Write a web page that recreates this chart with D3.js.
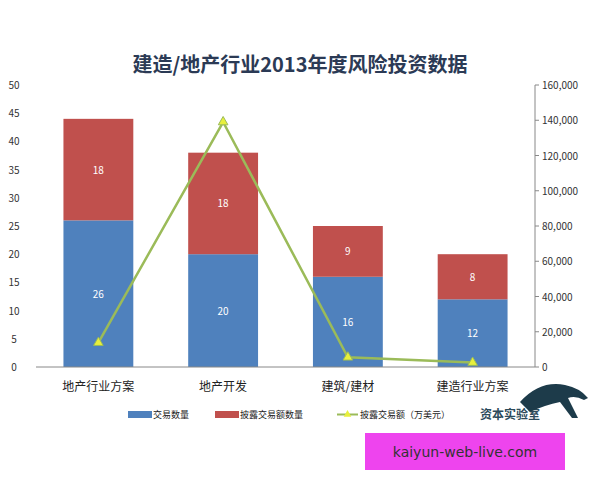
<!DOCTYPE html>
<html><head><meta charset="utf-8">
<script src="https://cdn.jsdelivr.net/npm/d3@7/dist/d3.min.js"></script>
<style>body{margin:0;background:#fff}</style></head>
<body><svg id="c" width="600" height="480"></svg>
<script>
const categories=["地产行业方案","地产开发","建筑/建材","建造行业方案"];
const countVals=[26,20,16,12];
const disclosedCountVals=[18,18,9,8];
const amountVals=[13800,139000,5500,2500];
const leftTicks=[0,5,10,15,20,25,30,35,40,45,50];
const rightTicks=[0,20000,40000,60000,80000,100000,120000,140000,160000];
const svg=d3.select("#c");
const font="'Noto Sans CJK SC','DejaVu Sans',sans-serif";
const L=36,R=535,T=85,B=367;
const x=d3.scaleBand().domain(categories).range([L,R]).paddingInner(0.44).paddingOuter(0.22);
const y=d3.scaleLinear().domain([0,50]).range([B,T]);
const y2=d3.scaleLinear().domain([0,160000]).range([B,T]);
svg.append("text").attr("x",300).attr("y",72).attr("text-anchor","middle").attr("font-family",font)
 .attr("font-size",20).attr("font-weight","bold").attr("fill","#2b3a55").text("建造/地产行业2013年度风险投资数据");
// left axis labels
svg.selectAll(".lt").data(leftTicks).enter().append("text").attr("x",14).attr("y",d=>y(d)+4)
 .attr("text-anchor","middle").attr("font-family",font).attr("font-size",10).attr("fill","#333").text(d=>d);
// right axis
svg.append("line").attr("x1",R).attr("x2",R).attr("y1",T).attr("y2",B).attr("stroke","#888");
svg.selectAll(".rt").data(rightTicks).enter().append("line").attr("x1",R).attr("x2",R+4).attr("y1",d=>y2(d)).attr("y2",d=>y2(d)).attr("stroke","#888");
svg.selectAll(".rl").data(rightTicks).enter().append("text").attr("x",542).attr("y",d=>y2(d)+4)
 .attr("font-family",font).attr("font-size",10).attr("fill","#333").text(d=>d3.format(",")(d));
// bars
const g=svg.append("g");
g.selectAll(".b1").data(categories).enter().append("rect").attr("x",d=>x(d)).attr("width",x.bandwidth())
 .attr("y",(d,i)=>y(countVals[i])).attr("height",(d,i)=>B-y(countVals[i])).attr("fill","#4f81bd");
g.selectAll(".b2").data(categories).enter().append("rect").attr("x",d=>x(d)).attr("width",x.bandwidth())
 .attr("y",(d,i)=>y(countVals[i]+disclosedCountVals[i])).attr("height",(d,i)=>y(countVals[i])-y(countVals[i]+disclosedCountVals[i])).attr("fill","#c0504d");
g.selectAll(".l1").data(categories).enter().append("text").attr("x",d=>x(d)+x.bandwidth()/2).attr("y",(d,i)=>y(countVals[i]/2)+4)
 .attr("text-anchor","middle").attr("font-family",font).attr("font-size",10).attr("fill","#fff").text((d,i)=>countVals[i]);
g.selectAll(".l2").data(categories).enter().append("text").attr("x",d=>x(d)+x.bandwidth()/2).attr("y",(d,i)=>y(countVals[i]+disclosedCountVals[i]/2)+4)
 .attr("text-anchor","middle").attr("font-family",font).attr("font-size",10).attr("fill","#fff").text((d,i)=>disclosedCountVals[i]);
svg.append("line").attr("x1",L).attr("x2",R).attr("y1",B).attr("y2",B).attr("stroke","#888");
// line
const line=d3.line().x((d,i)=>x(categories[i])+x.bandwidth()/2).y(d=>y2(d));
svg.append("path").attr("d",line(amountVals)).attr("fill","none").attr("stroke","#9bbb59").attr("stroke-width",2.5);
svg.selectAll(".tri").data(amountVals).enter().append("path")
 .attr("d",d3.symbol().type(d3.symbolTriangle).size(40))
 .attr("transform",(d,i)=>`translate(${x(categories[i])+x.bandwidth()/2},${y2(d)})`).attr("fill","#e8f03c").attr("stroke","#9bbb59");
// category labels
svg.selectAll(".cl").data(categories).enter().append("text").attr("x",d=>x(d)+x.bandwidth()/2).attr("y",391)
 .attr("text-anchor","middle").attr("font-family",font).attr("font-size",12).attr("fill","#222").text(d=>d);
// legend
const lg=svg.append("g").attr("font-family",font).attr("font-size",9).attr("fill","#222");
lg.append("rect").attr("x",128).attr("y",411).attr("width",24).attr("height",7).attr("fill","#4f81bd");
lg.append("text").attr("x",153).attr("y",418).text("交易数量");
lg.append("rect").attr("x",215).attr("y",411).attr("width",24).attr("height",7).attr("fill","#c0504d");
lg.append("text").attr("x",240).attr("y",418).text("披露交易额数量");
lg.append("line").attr("x1",337).attr("x2",358).attr("y1",414.5).attr("y2",414.5).attr("stroke","#9bbb59").attr("stroke-width",2);
lg.append("path").attr("d",d3.symbol().type(d3.symbolTriangle).size(25)).attr("transform","translate(347.5,414.5)").attr("fill","#e8f03c");
lg.append("text").attr("x",360).attr("y",418).text("披露交易额（万美元）");
svg.append("text").attr("x",480).attr("y",419).attr("font-family",font).attr("font-size",12).attr("font-weight","bold").attr("fill","#2c4a5a").text("资本实验室");
// panther-like mark
svg.append("path").attr("d","M520,402 Q540,380 565,385 Q580,388 588,398 L584,400 Q575,395 568,398 L578,418 L572,418 L560,402 Q545,405 530,412 Z").attr("fill","#1d3b4a");
// watermark box
svg.append("rect").attr("x",365).attr("y",433).attr("width",200).attr("height",37).attr("fill","#ee44ee");
svg.append("text").attr("x",465).attr("y",457).attr("text-anchor","middle").attr("font-family","'DejaVu Sans',sans-serif").attr("font-size",14).attr("fill","#333").text("kaiyun-web-live.com");
</script></body></html>
